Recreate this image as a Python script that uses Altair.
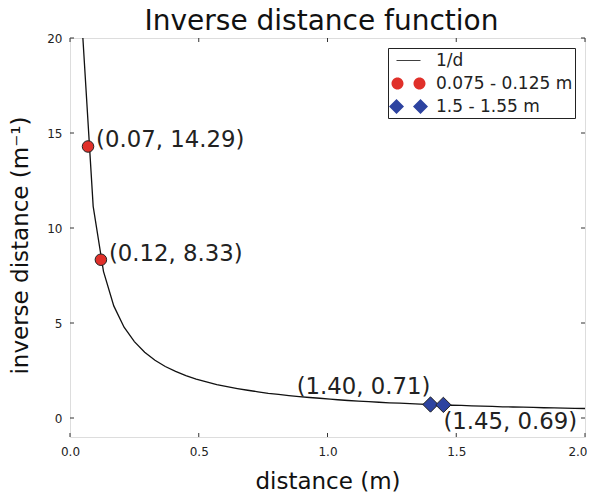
import altair as alt
import pandas as pd

# ---- data ----
curve_d = [0.05, 0.09, 0.13, 0.17, 0.21, 0.25, 0.29, 0.33, 0.37, 0.41,
           0.45, 0.49, 0.53, 0.57, 0.61, 0.65, 0.69, 0.73, 0.77, 0.81,
           0.85, 0.89, 0.93, 0.97, 1.01, 1.04, 1.08, 1.12, 1.16, 1.20,
           1.24, 1.28, 1.32, 1.36, 1.40, 1.44, 1.48, 1.52, 1.56, 1.60,
           1.64, 1.68, 1.72, 1.76, 1.80, 1.84, 1.88, 1.92, 1.96, 2.00]
curve_inv = [20.00, 11.14, 7.72, 5.90, 4.78, 4.02, 3.46, 3.04, 2.71, 2.45,
             2.23, 2.05, 1.90, 1.76, 1.65, 1.55, 1.46, 1.38, 1.30, 1.24,
             1.18, 1.13, 1.08, 1.04, 0.99, 0.96, 0.92, 0.89, 0.86, 0.83,
             0.80, 0.78, 0.76, 0.73, 0.71, 0.69, 0.67, 0.66, 0.64, 0.62,
             0.61, 0.59, 0.58, 0.57, 0.56, 0.54, 0.53, 0.52, 0.51, 0.50]

near_d = [0.07, 0.12]
near_inv = [14.29, 8.33]
far_d = [1.40, 1.45]
far_inv = [0.71, 0.69]

series_names = ["1/d", "0.075 - 0.125 m", "1.5 - 1.55 m"]
series_colors = ["#111111", "#e0302a", "#2d43a0"]
x_ticks = [0.0, 0.5, 1.0, 1.5, 2.0]
y_ticks = [0, 5, 10, 15, 20]

W, H = 515, 399
FONT = "DejaVu Sans"

curve = pd.DataFrame({"d": curve_d, "inv": curve_inv})
near = pd.DataFrame({"d": near_d, "inv": near_inv})
far = pd.DataFrame({"d": far_d, "inv": far_inv})
near["label"] = [f"({a:.2f}, {b:.2f})" for a, b in zip(near_d, near_inv)]
far["label"] = [f"({a:.2f}, {b:.2f})" for a, b in zip(far_d, far_inv)]

xs = alt.Scale(domain=[0, 2], nice=False, zero=False)
ys = alt.Scale(domain=[-1, 20], nice=False, zero=False)

X = alt.X("d:Q", scale=xs,
          axis=alt.Axis(values=x_ticks, format=".1f", title="distance (m)",
                        ticks=False, domain=False, grid=False, labelPadding=9,
                        labelFlush=False,
                        labelAlign=alt.ExprRef(expr="datum.value >= 2 ? 'right' : 'center'"),
                        labelOffset=alt.ExprRef(expr="datum.value >= 2 ? 2 : 0"),
                        titlePadding=13, labelFontSize=12,
                        titleFontSize=23, labelFont=FONT, titleFont=FONT,
                        labelColor="#222", titleColor="#111",
                        titleFontWeight="normal"))
Y = alt.Y("inv:Q", scale=ys,
          axis=alt.Axis(values=y_ticks, title="inverse distance (m⁻¹)",
                        ticks=False, domain=False, grid=False, labelPadding=8,
                        labelFlush=False, titlePadding=14, titleY=207,
                        labelFontSize=12, titleFontSize=23, labelFont=FONT,
                        titleFont=FONT, labelColor="#222", titleColor="#111",
                        titleFontWeight="normal"))

line = alt.Chart(curve).mark_line(color="#111111", strokeWidth=1.3, clip=True).encode(x=X, y=Y)

circles = alt.Chart(near).mark_point(shape="circle", filled=True, size=133,
                                     fill="#e0302a", stroke="#222", strokeWidth=1,
                                     opacity=1).encode(x="d:Q", y="inv:Q")
diamonds = alt.Chart(far).mark_point(shape="diamond", filled=True, size=235,
                                     fill="#2d43a0", stroke="#222", strokeWidth=1,
                                     opacity=1).encode(x="d:Q", y="inv:Q")

txt = dict(fontSize=22.8, font=FONT, color="#222")
near_lbl = alt.Chart(near).mark_text(align="left", baseline="middle", dx=8, dy=-6, **txt).encode(
    x="d:Q", y="inv:Q", text="label:N")
far_lbl1 = alt.Chart(far.iloc[[0]]).mark_text(align="right", baseline="middle", dx=0, dy=-18, **txt).encode(
    x="d:Q", y="inv:Q", text="label:N")
far_lbl2 = alt.Chart(far.iloc[[1]]).mark_text(align="left", baseline="middle", dx=0, dy=17, **txt).encode(
    x="d:Q", y="inv:Q", text="label:N")

# legend from a clipped (never drawn) layer; custom symbol paths show two markers per entry
two_circles = ("M -1.7 0 A 0.6 0.6 0 1 0 -0.5 0 A 0.6 0.6 0 1 0 -1.7 0 Z "
               "M 0.5 0 A 0.6 0.6 0 1 0 1.7 0 A 0.6 0.6 0 1 0 0.5 0 Z")
two_diamonds = ("M -1.95 0 L -1.2 -0.75 L -0.45 0 L -1.2 0.75 Z "
                "M 0.45 0 L 1.2 -0.75 L 1.95 0 L 1.2 0.75 Z")
stroke_line = "M -1.2 -0.04 L 1.2 -0.04 L 1.2 0.04 L -1.2 0.04 Z"
leg_df = pd.DataFrame({"d": [-1.0, -1.0, -1.0], "inv": [-5.0, -5.0, -5.0],
                       "series": series_names})
legend_layer = alt.Chart(leg_df).mark_point(filled=True, clip=True, opacity=1).encode(
    x="d:Q", y="inv:Q",
    color=alt.Color("series:N", scale=alt.Scale(domain=series_names, range=series_colors),
                    legend=alt.Legend(title=None, orient="top-right", offset=10,
                                      padding=2, strokeColor="#222", fillColor="white",
                                      symbolSize=400, symbolOpacity=1,
                                      symbolStrokeColor="#222", symbolStrokeWidth=1,
                                      labelFontSize=17, labelFont=FONT, labelColor="#222",
                                      labelOffset=17, rowPadding=4, symbolOffset=8,
                                      cornerRadius=0)),
    shape=alt.Shape("series:N", scale=alt.Scale(domain=series_names,
                                                range=[stroke_line, two_circles, two_diamonds]),
                    legend=alt.Legend(title=None, orient="top-right", offset=10)),
)

# inward ticks on all four sides
xt = pd.DataFrame({"d": x_ticks})
yt = pd.DataFrame({"inv": y_ticks})
tick_col = "#333"
t_bottom = alt.Chart(xt).mark_rule(color=tick_col).encode(x="d:Q", y=alt.value(H), y2=alt.value(H - 4))
t_top = alt.Chart(xt).mark_rule(color=tick_col).encode(x="d:Q", y=alt.value(0), y2=alt.value(4))
t_left = alt.Chart(yt).mark_rule(color=tick_col).encode(y="inv:Q", x=alt.value(0), x2=alt.value(4))
t_right = alt.Chart(yt).mark_rule(color=tick_col).encode(y="inv:Q", x=alt.value(W), x2=alt.value(W - 4))

chart = alt.layer(line, t_bottom, t_top, t_left, t_right, circles, diamonds,
                  near_lbl, far_lbl1, far_lbl2, legend_layer).properties(
    width=W, height=H,
    title=alt.Title("Inverse distance function", fontSize=28, font=FONT,
                    fontWeight="normal", color="#111", offset=-4, dx=-6),
    autosize=alt.AutoSizeParams(type="none"),
    padding={"left": 62, "top": 30, "right": 2, "bottom": 56},
).configure_view(stroke="#333", strokeWidth=1).configure(background="white")

chart.save("out.html", embed_options={"renderer": "svg", "actions": False})
